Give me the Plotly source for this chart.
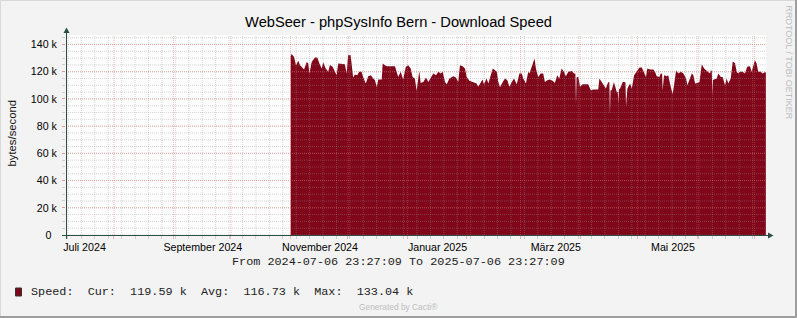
import pandas as pd
import plotly.graph_objects as go

# ---------------- data ----------------
title_text = "WebSeer - phpSysInfo Bern - Download Speed"
y_title = "bytes/second"
range_start = "2024-07-06 23:27:09"
range_end = "2025-07-06 23:27:09"
series_origin = "2024-11-01 00:00:00"

# position of each reading, in days after series_origin
speed_days = [
    0.15, 0.65, 1.9, 2.9, 4.1, 5.0, 5.9, 7.1, 8.5, 9.3, 9.9, 11.1, 12.8, 14.0, 15.1, 16.3,
    17.1, 18.4, 19.7, 20.6, 22.0, 23.2, 24.1, 24.9, 27.5, 28.4, 29.3, 30.1, 31.4, 31.9, 32.7,
    33.6, 34.8, 35.9, 37.1, 37.9, 39.3, 40.6, 41.9, 43.2, 44.1, 45.0, 45.8, 47.6, 48.1, 49.3,
    50.2, 54.5, 55.4, 56.2, 57.5, 58.8, 60.2, 61.4, 62.7, 63.7, 64.9, 65.8, 67.2, 67.9, 69.3,
    70.7, 71.9, 73.2, 74.5, 75.9, 77.1, 78.4, 79.4, 80.6, 81.5, 82.9, 84.1, 84.9, 86.3, 87.5,
    88.4, 89.8, 91.0, 91.9, 93.3, 94.5, 95.7, 97.1, 97.9, 99.2, 100.2, 100.9, 102.3, 103.2,
    104.5, 105.5, 106.7, 107.6, 108.4, 109.3, 110.7, 111.9, 113.1, 114.2, 115.4, 116.6, 118.0,
    119.4, 120.6, 121.4, 122.8, 124.0,
    124.6, 125.8, 126.6, 127.3, 128.0, 129.2, 130.5, 131.8, 132.7, 133.9, 135.3, 136.7, 137.9,
    139.1, 140.2, 141.4, 142.6, 143.6, 144.9, 146.7, 147.9, 148.6, 148.9, 149.2, 150.1, 151.0,
    152.4, 155.3, 156.6, 157.9, 160.5, 161.1, 162.3, 163.5, 164.5, 165.7, 166.3, 166.6, 166.9,
    167.5, 168.7, 170.1, 170.7, 171.0, 171.3, 171.9, 173.3, 174.0, 174.7, 175.0, 175.3, 175.7,
    177.1, 178.0, 179.2, 180.6, 182.0, 183.2, 184.4, 185.4, 186.1, 187.5, 189.2, 190.1, 191.0,
    192.4, 193.1, 193.8, 194.1, 194.4, 194.8, 196.2, 197.0, 198.3, 199.3, 200.0, 201.1, 202.3,
    203.5, 204.9, 206.3, 207.0, 208.1, 209.3, 210.1, 211.0, 212.2, 213.3, 214.5, 215.7, 216.7,
    217.9, 218.8, 219.2, 219.7, 220.0, 220.3, 220.9, 222.3, 223.1, 224.4, 225.4, 226.6, 227.5,
    228.3, 229.6, 230.6, 231.8, 232.7, 233.5, 234.4, 235.8, 237.0, 238.2, 239.6, 240.5, 241.7,
    242.2, 243.1, 243.9, 245.2, 246.2, 247.4, 247.9,
]
# download speed in k bytes/second
speed_k = [
    131.5, 133.0, 130.9, 124.8, 128.0, 124.8, 123.5, 121.6, 127.2, 126.0, 118.7, 127.2, 130.4,
    130.4, 126.0, 122.3, 127.0, 122.3, 119.9, 125.0, 123.6, 119.9, 117.4, 126.0, 126.0, 125.5,
    118.7, 132.1, 132.1, 123.6, 115.7, 118.0, 117.4, 119.9, 119.9, 116.2, 111.3, 116.7, 117.4,
    115.0, 113.7, 108.6, 114.3, 114.3, 126.0, 124.8, 124.1, 124.1, 119.9, 116.2, 119.9, 114.3,
    123.6, 124.8, 122.3, 116.2, 115.0, 106.0, 120.6, 111.8, 112.5, 115.7, 112.5, 116.2, 118.7,
    117.4, 119.9, 118.7, 119.9, 112.5, 110.8, 115.0, 116.2, 116.7, 115.7, 112.5, 124.8, 124.1,
    122.3, 116.2, 113.3, 112.5, 111.8, 111.3, 108.9, 112.5, 114.3, 110.8, 115.0, 111.3, 118.7,
    122.3, 121.1, 119.9, 112.5, 108.6, 112.5, 115.0, 113.7, 108.9, 112.5, 115.0, 110.8, 118.7,
    118.7, 115.0, 111.3, 119.9,
    118.7, 123.6, 128.5, 129.7, 122.3, 116.2, 118.7, 118.7, 112.5, 113.7, 114.3, 113.3, 111.8,
    117.4, 115.0, 122.3, 119.9, 116.7, 119.9, 120.6, 118.7, 118.5, 96.6, 116.0, 116.2, 108.9,
    110.8, 110.8, 106.4, 106.9, 106.9, 115.0, 112.5, 110.1, 107.6, 112.5, 112.0, 88.8, 106.4,
    106.4, 112.5, 105.2, 105.0, 96.6, 107.0, 107.6, 112.5, 112.5, 112.0, 94.6, 107.0, 107.6,
    111.3, 107.6, 117.4, 119.9, 123.1, 123.1, 119.9, 116.2, 122.3, 121.6, 121.6, 119.9, 116.7,
    116.2, 118.7, 118.5, 106.4, 117.0, 117.4, 116.7, 117.4, 108.9, 103.5, 110.1, 121.1, 118.7,
    119.9, 118.7, 115.0, 110.1, 115.0, 118.7, 117.4, 111.3, 111.8, 112.5, 125.5, 122.3, 121.1,
    119.9, 118.7, 121.1, 120.5, 102.8, 114.0, 114.3, 115.0, 118.7, 116.2, 116.2, 110.1, 115.0,
    111.3, 115.0, 127.3, 126.5, 119.9, 118.7, 119.9, 119.9, 118.7, 123.6, 124.1, 119.9, 126.0,
    128.5, 126.0, 119.9, 119.9, 118.7, 119.6, 119.6,
]

y_max_k = 147.0
ytick_vals = [0, 20, 40, 60, 80, 100, 120, 140]
ytick_text = ["0\u2002", "20 k", "40 k", "60 k", "80 k", "100 k", "120 k", "140 k"]
xtick_dates = ["2024-07-16 15:00", "2024-09-16 07:20", "2024-11-16 10:00",
               "2025-01-16 16:30", "2025-03-19 09:00", "2025-05-19 11:30"]
xtick_text = ["Juli 2024", "September 2024", "November 2024",
              "Januar 2025", "März 2025", "Mai 2025"]

legend_name = "Speed:"
stat_cur = "119.59 k"
stat_avg = "116.73 k"
stat_max = "133.04 k"
footer_text = "Generated by Cacti®"
watermark_text = "RRDTOOL / TOBI OETIKER"

# ---------------- styling ----------------
W, H = 797, 318
L, T, PW, PH = 66, 35, 700, 200
BG = "#F3F3F3"
CANVAS = "#FDFDFD"
AREA = "#80061A"
AXIS = "#2C4D43"
MINOR = "rgba(150,150,150,0.38)"
MAJOR = "rgba(228,90,90,0.42)"
SANS = "Liberation Sans, Arial, sans-serif"
MONO = "Liberation Mono, Courier New, monospace"


def px(x):
    return (x - L) / PW


def py(y):
    return (T + PH - y) / PH


origin = pd.Timestamp(series_origin)
speed_x = [origin + pd.Timedelta(days=d) for d in speed_days]

month_lines = pd.date_range("2024-08-01", "2025-07-01", freq="MS")
week_lines = pd.date_range("2024-07-08", "2025-06-30", freq="7D")
y_minor = [v * 5 for v in range(0, 30)]
y_major = ytick_vals

fig = go.Figure()
fig.add_trace(go.Scatter(
    x=speed_x, y=speed_k, mode="lines", line=dict(width=0, color=AREA),
    fill="tozeroy", fillcolor=AREA, hoverinfo="skip", showlegend=False))


def vlines(dates):
    xs, ys = [], []
    for d in dates:
        xs += [d, d, None]
        ys += [0, y_max_k, None]
    return xs, ys


def hlines(vals):
    xs, ys = [], []
    for v in vals:
        xs += [pd.Timestamp(range_start), pd.Timestamp(range_end), None]
        ys += [v, v, None]
    return xs, ys


for (xs, ys), col in [(vlines(week_lines), MINOR), (hlines(y_minor), MINOR),
                      (vlines(month_lines), MAJOR), (hlines(y_major[1:]), MAJOR)]:
    fig.add_trace(go.Scatter(x=xs, y=ys, mode="lines", xaxis="x2",
                             line=dict(color=col, width=1, dash="1px,1px"),
                             hoverinfo="skip", showlegend=False))

shapes = []
# outer frame
shapes.append(dict(type="line", xref="paper", yref="paper", x0=px(0), x1=px(W), y0=py(0.5), y1=py(0.5),
                   line=dict(color="#D8D8D8", width=1)))
shapes.append(dict(type="line", xref="paper", yref="paper", x0=px(0.5), x1=px(0.5), y0=py(0), y1=py(H),
                   line=dict(color="#D8D8D8", width=1)))
shapes.append(dict(type="line", xref="paper", yref="paper", x0=px(0), x1=px(W), y0=py(H - 1), y1=py(H - 1),
                   line=dict(color="#9E9E9E", width=2)))
shapes.append(dict(type="line", xref="paper", yref="paper", x0=px(W - 1), x1=px(W - 1), y0=py(0), y1=py(H),
                   line=dict(color="#9E9E9E", width=2)))
# axes with arrows
shapes.append(dict(type="line", xref="paper", yref="paper", x0=px(62), x1=px(770), y0=py(235.5), y1=py(235.5),
                   line=dict(color=AXIS, width=1)))
shapes.append(dict(type="line", xref="paper", yref="paper", x0=px(66.5), x1=px(66.5), y0=py(239), y1=py(31),
                   line=dict(color=AXIS, width=1)))
shapes.append(dict(type="path", xref="paper", yref="paper",
                   path=f"M {px(768)} {py(232.5)} L {px(768)} {py(238.5)} L {px(773.5)} {py(235.5)} Z",
                   fillcolor=AXIS, line=dict(width=0)))
shapes.append(dict(type="path", xref="paper", yref="paper",
                   path=f"M {px(63.5)} {py(33)} L {px(69.5)} {py(33)} L {px(66.5)} {py(27.5)} Z",
                   fillcolor=AXIS, line=dict(width=0)))
# legend swatch
shapes.append(dict(type="rect", xref="paper", yref="paper", x0=px(15.5), x1=px(21.5), y0=py(296), y1=py(288),
                   fillcolor=AREA, line=dict(color="#333333", width=1)))

legend_line = f"{legend_name}  Cur:  {stat_cur}  Avg:  {stat_avg}  Max:  {stat_max}"
from_line = f"From {range_start} To {range_end}"


def note(text, x, y, size, family, color, xanchor="center", yanchor="middle", angle=0):
    return dict(text=text, x=px(x), y=py(y), xref="paper", yref="paper", showarrow=False,
                xanchor=xanchor, yanchor=yanchor, textangle=angle, borderpad=0, borderwidth=0,
                font=dict(family=family, size=size, color=color))


annotations = [
    note(y_title, 11, 133.5, 11.3, SANS, "#111", angle=-90),
    note(from_line, 398.3, 262, 11.8, MONO, "#222"),
    note(legend_line, 31, 291.5, 11.8, MONO, "#222", xanchor="left"),
    note(footer_text, 398, 306.7, 8.4, SANS, "#BDBDBD"),
    note(watermark_text, 788.5, 5, 9, SANS, "#BDBDBD", yanchor="top", angle=90),
]

fig.update_layout(
    width=W, height=H, margin=dict(l=L, r=W - L - PW, t=T, b=H - T - PH, pad=0),
    paper_bgcolor=BG, plot_bgcolor=CANVAS, showlegend=False,
    title=dict(text=title_text, x=0.5, xref="container", y=1 - 22 / H, yref="container",
               xanchor="center", yanchor="middle", font=dict(family=SANS, size=14.67, color="#000")),
    xaxis=dict(type="date", range=[range_start, range_end], showgrid=False, zeroline=False,
               showline=False, tickmode="array", tickvals=xtick_dates, ticktext=xtick_text,
               ticks="", ticklabelstandoff=4,
               tickfont=dict(family=SANS, size=10.67, color="#000"), fixedrange=True),
    xaxis2=dict(type="date", range=[range_start, range_end], overlaying="x", anchor="y",
                showgrid=False, zeroline=False, showline=False, showticklabels=False,
                tickmode="array", tickvals=list(month_lines), ticks="outside", ticklen=3,
                tickcolor=MAJOR,
                minor=dict(tickmode="array", tickvals=list(week_lines), ticks="outside",
                           ticklen=3, tickcolor=MINOR)),
    yaxis=dict(range=[0, y_max_k], showgrid=False, zeroline=False, showline=False,
               tickmode="array", tickvals=ytick_vals, ticktext=ytick_text,
               ticks="outside", ticklen=3, tickcolor=MAJOR, ticklabelstandoff=3,
               minor=dict(tickmode="array", tickvals=y_minor, ticks="outside", ticklen=3,
                          tickcolor=MINOR),
               tickfont=dict(family=SANS, size=10.67, color="#000"), fixedrange=True),
    shapes=shapes, annotations=annotations,
)

fig.write_html("out.html")
